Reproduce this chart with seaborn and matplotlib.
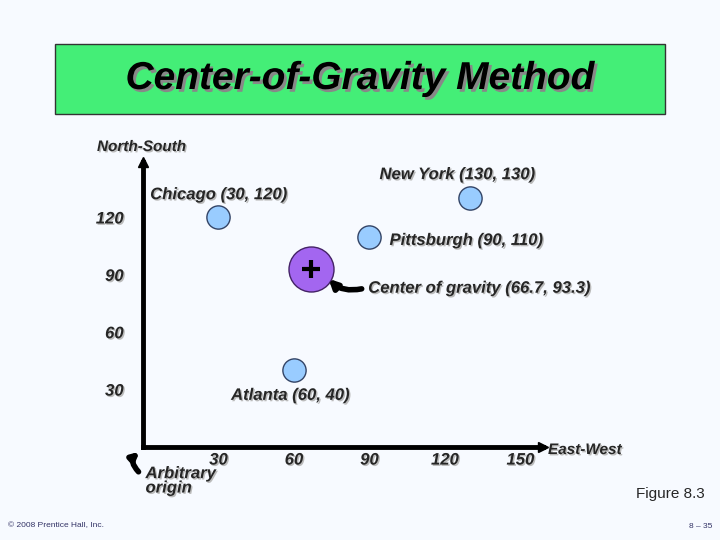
import matplotlib.pyplot as plt
import matplotlib.patches as mpatches
import matplotlib.patheffects as pe
import seaborn as sns
import pandas as pd

cities = ["Chicago", "New York", "Pittsburgh", "Atlanta"]
east_west = [30, 130, 90, 60]
north_south = [120, 130, 110, 40]
center = (66.7, 93.3)
x_ticks = [30, 60, 90, 120, 150]
y_ticks = [30, 60, 90, 120]

df = pd.DataFrame({"city": cities, "x": east_west, "y": north_south})

sns.set_style("white")
plt.rcParams['font.family'] = ['Liberation Sans', 'DejaVu Sans']
bg = "#F7FAFF"
fig = plt.figure(figsize=(7.2, 5.4), dpi=100, facecolor=bg)

# title box
fig.patches.append(mpatches.Rectangle((55 / 720, 1 - 114 / 540), 610 / 720, 70 / 540,
                                      transform=fig.transFigure, facecolor="#44EE77",
                                      edgecolor="#333333", lw=1))
fig.text(0.5, 1 - 79 / 540, "Center-of-Gravity Method", ha="center", va="center",
         fontsize=28, fontweight="bold", style="italic", color="black",
         path_effects=[pe.withSimplePatchShadow(offset=(2, -2), shadow_rgbFace="#888888", alpha=1)])

ax = fig.add_axes([143 / 720, 1 - 447 / 540, 400 / 720, 285 / 540])
ax.set_facecolor(bg)
ax.set_xlim(0, 159)
ax.set_ylim(0, 149)
for s in ["top", "right"]:
    ax.spines[s].set_visible(False)
for s in ["left", "bottom"]:
    ax.spines[s].set_linewidth(3.5)
    ax.spines[s].set_color("black")
ax.plot(1, 0, ">k", ms=7, transform=ax.transAxes, clip_on=False)
ax.plot(0, 1, "^k", ms=7, transform=ax.transAxes, clip_on=False)

ax.set_xticks(x_ticks)
ax.set_yticks(y_ticks)
tick_font = dict(fontsize=12, fontweight="bold", style="italic")
ax.set_xticklabels([str(t) for t in x_ticks], **tick_font)
ax.set_yticklabels([str(t) for t in y_ticks], **tick_font)
ax.tick_params(axis="x", direction="in", length=8, width=1, pad=4)
ax.tick_params(axis="y", direction="out", length=8, width=1, pad=6)
shadow = [pe.withSimplePatchShadow(offset=(1, -1), shadow_rgbFace="#BBBBBB", alpha=1)]
for lbl in ax.get_xticklabels() + ax.get_yticklabels():
    lbl.set_path_effects(shadow)

sns.scatterplot(data=df, x="x", y="y", ax=ax, s=280, color="#99CCFF",
                edgecolor="#334466", linewidth=1, legend=False, zorder=3, clip_on=False)
sns.scatterplot(x=[center[0]], y=[center[1]], ax=ax, s=1050, color="#A366F0",
                edgecolor="#442266", linewidth=1, legend=False, zorder=3)
ax.plot(*center, marker="+", ms=13, mew=3, color="black", zorder=4)
ax.set_xlabel("")
ax.set_ylabel("")

lab = dict(fontsize=12, fontweight="bold", style="italic", path_effects=shadow)
ax.text(30, 128, "Chicago (30, 120)", ha="center", va="bottom", **lab)
ax.text(94, 138.5, "New York (130, 130)", ha="left", va="bottom", **lab)
ax.text(98, 108, "Pittsburgh (90, 110)", ha="left", va="center", **lab)
ax.text(89.5, 83, "Center of gravity (66.7, 93.3)", ha="left", va="center", **lab)
ax.text(35, 27, "Atlanta (60, 40)", ha="left", va="center", **lab)
ax.text(1, -10, "Arbitrary\norigin", ha="left", va="top", fontsize=12,
        fontweight="bold", style="italic", path_effects=shadow, linespacing=0.95)
ax.annotate("", xy=(73, 89), xytext=(88, 83),
            arrowprops=dict(arrowstyle="-|>", lw=4, color="black", mutation_scale=12,
                            connectionstyle="arc3,rad=-0.3"), zorder=5)
ax.annotate("", xy=(-0.5, -1.5), xytext=(-1, -14), annotation_clip=False,
            arrowprops=dict(arrowstyle="-|>", lw=4, color="black", mutation_scale=10,
                            connectionstyle="arc3,rad=-0.6"))

fig.text(97 / 720, 1 - 147 / 540, "North-South", fontsize=11, style="italic",
         fontweight="bold", va="center", path_effects=shadow)
fig.text(548 / 720, 1 - 450 / 540, "East-West", fontsize=11, style="italic",
         fontweight="bold", va="center", path_effects=shadow)
fig.text(705 / 720, 1 - 494 / 540, "Figure 8.3", fontsize=11, ha="right", va="center")
fig.text(8 / 720, 1 - 526 / 540, "© 2008 Prentice Hall, Inc.", fontsize=6, va="center",
         color="#333366")
fig.text(712 / 720, 1 - 526 / 540, "8 – 35", fontsize=6, ha="right", va="center",
         color="#333366")

fig.savefig("out.png", dpi=100, facecolor=bg)
